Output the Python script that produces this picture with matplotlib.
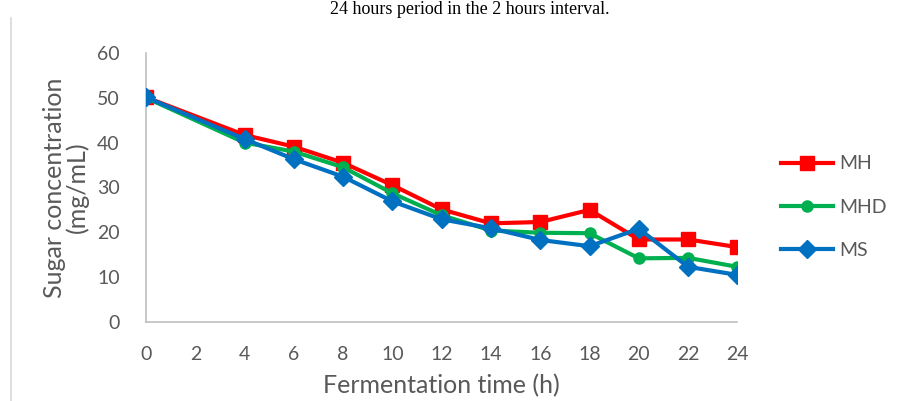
"""Sugar concentration during fermentation for MH, MHD and MS."""

import matplotlib
matplotlib.use("Agg")
from matplotlib import pyplot as plt
from matplotlib.lines import Line2D

hours = [0, 4, 6, 8, 10, 12, 14, 16, 18, 20, 22, 24]
mh = [50.1, 41.7, 39.1, 35.5, 30.5, 25.1, 22.0, 22.3, 25.0, 18.4, 18.4, 16.7]
mhd = [50.0, 40.0, 38.0, 34.5, 28.7, 23.8, 20.4, 19.9, 19.8, 14.2, 14.3, 12.3]
ms = [50.1, 40.8, 36.3, 32.4, 26.9, 22.9, 20.9, 18.3, 16.9, 20.8, 12.3, 10.5]

x_ticks = list(range(0, 25, 2))
y_ticks = list(range(0, 61, 10))

RED = "#FF0000"
GREEN = "#00B050"
BLUE = "#0070C0"
GRAY = "#595959"


def main():
    plt.rcParams["font.family"] = ["Lato", "DejaVu Sans"]
    fig = plt.figure(figsize=(9.07, 4.01), dpi=100)
    ax = fig.add_axes([0.161, 0.197, 0.652, 0.671])

    kw = {"linewidth": 3, "zorder": 3}
    ax.plot(hours, mh, color=RED, marker="s", markersize=10, label="MH", **kw)
    ax.plot(hours, mhd, color=GREEN, marker="o", markersize=8, label="MHD", **kw)
    ax.plot(hours, ms, color=BLUE, marker="D", markersize=9, label="MS", **kw)

    ax.set_xlim(0, 24)
    ax.set_ylim(0, 60)
    ax.set_xticks(x_ticks)
    ax.set_yticks(y_ticks)
    ax.tick_params(length=0, labelsize=14, labelcolor=GRAY)
    ax.tick_params(axis="x", pad=17)
    ax.tick_params(axis="y", pad=19)
    for side in ("top", "right"):
        ax.spines[side].set_visible(False)
    for side in ("left", "bottom"):
        ax.spines[side].set_color("#BFBFBF")
        ax.spines[side].set_linewidth(1.2)
    for lbl in ax.get_xticklabels() + ax.get_yticklabels():
        lbl.set_clip_on(False)

    ax.set_xlabel("Fermentation time (h)", fontsize=18, color=GRAY, labelpad=8)
    ax.set_ylabel("Sugar concentration\n(mg/mL)", fontsize=18, color=GRAY,
                  labelpad=6, linespacing=0.95)

    handles = [
        Line2D([], [], color=RED, marker="s", markersize=10, linewidth=3),
        Line2D([], [], color=GREEN, marker="o", markersize=8, linewidth=3),
        Line2D([], [], color=BLUE, marker="D", markersize=9, linewidth=3),
    ]
    fig.legend(handles, ["MH", "MHD", "MS"], loc="upper left",
               bbox_to_anchor=(0.852, 0.632), frameon=False, fontsize=14,
               labelcolor=GRAY, handlelength=2.7, handletextpad=0.3,
               labelspacing=1.35, borderaxespad=0)

    # caption line above the chart and chart border
    fig.text(0.518, 0.998, "24 hours period in the 2 hours interval.",
             ha="center", va="top", fontsize=13,
             family="Liberation Serif", color="black")
    fig.add_artist(Line2D([0.012, 0.012], [0.0, 0.955], color="#D9D9D9",
                          linewidth=1.2, transform=fig.transFigure))

    fig.savefig("out.png", dpi=100)


if __name__ == "__main__":
    main()
